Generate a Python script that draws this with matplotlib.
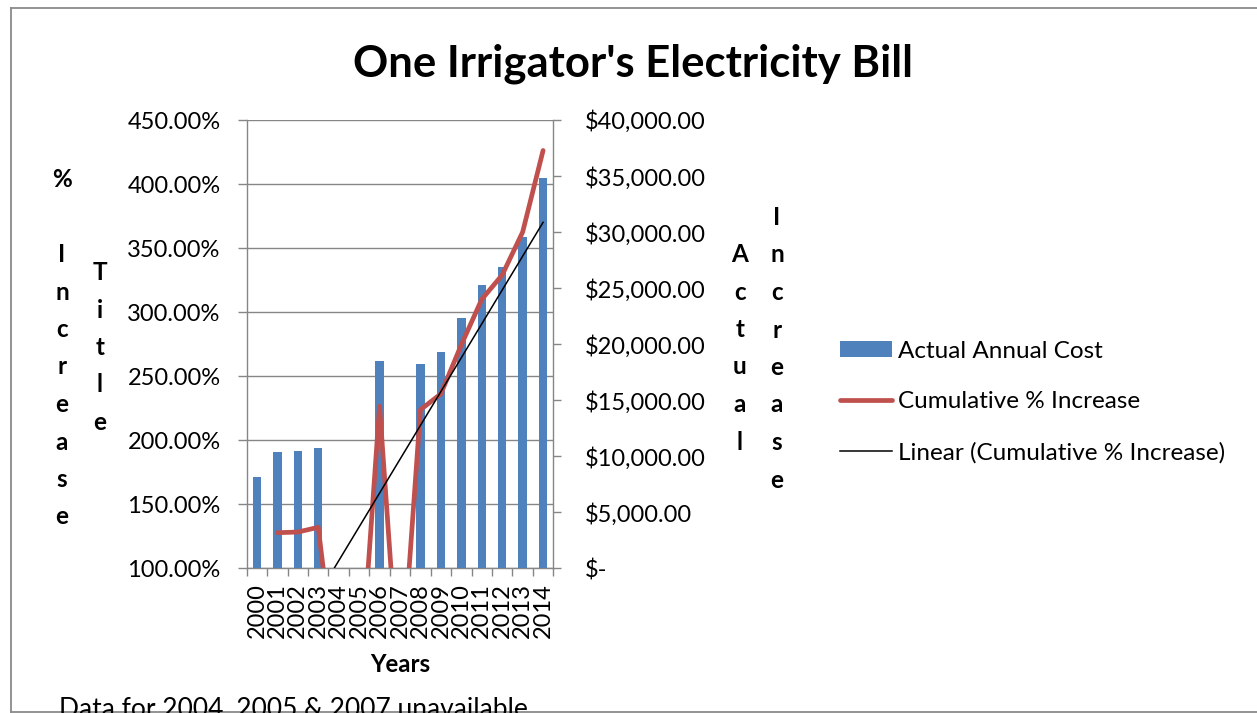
import numpy as np
import matplotlib
matplotlib.use("Agg")
import matplotlib.pyplot as plt
from matplotlib.lines import Line2D
from matplotlib.patches import Patch
from matplotlib.ticker import FuncFormatter

plt.rcParams['font.family'] = ['Lato', 'DejaVu Sans']

# ---------------- data ----------------
years = ['2000', '2001', '2002', '2003', '2004', '2005', '2006', '2007',
         '2008', '2009', '2010', '2011', '2012', '2013', '2014']
actual_cost = [8170, 10400, 10470, 10730, 0, 0, 18500, 0,
               18260, 19270, 22310, 25280, 26910, 29590, 34800]
cum_pct = [np.nan, 1.278, 1.283, 1.320, 0.0, 0.0, 2.265, 0.0,
           2.238, 2.362, 2.745, 3.100, 3.290, 3.625, 4.262]
pct_ticks = [1.0, 1.5, 2.0, 2.5, 3.0, 3.5, 4.0, 4.5]
cost_ticks = [0, 5000, 10000, 15000, 20000, 25000, 30000, 35000, 40000]

title = "One Irrigator's Electricity Bill"
x_title = "Years"
footnote = "Data for 2004, 2005 & 2007 unavailable"
series_names = ["Actual Annual Cost", "Cumulative % Increase",
                "Linear (Cumulative % Increase)"]

# ---------------- style ----------------
W, H = 1257, 713
BLUE = '#4F81BD'
RED = '#C0504D'
GRAY = '#868686'
TICK_FS = 17
BOLD_FS = 17.5
LEG_FS = 17.5

fig = plt.figure(figsize=(W / 100, H / 100), dpi=100)
fig.patch.set_facecolor('white')


def fx(px):
    return px / W


def fy(py):
    return (H - py) / H


L, R, T, B = 246.7, 553.3, 120.0, 568.3
rect = [fx(L), fy(B), fx(R) - fx(L), fy(T) - fy(B)]

ax_pct = fig.add_axes(rect)
ax_cost = ax_pct.twinx()
ax_line = ax_pct.twinx()
ax_pct.set_zorder(1)
ax_cost.set_zorder(2)
ax_line.set_zorder(3)
ax_cost.patch.set_visible(False)
ax_line.patch.set_visible(False)

idx = np.arange(len(years))

# bars (right $ axis)
ax_cost.bar(idx, actual_cost, width=0.41, color=BLUE, linewidth=0)
ax_cost.set_ylim(0, 40000)
ax_cost.set_yticks(cost_ticks)


def cost_fmt(v, pos):
    if abs(v) < 1e-9:
        return '$-'
    return '${:,.2f}'.format(v)


ax_cost.yaxis.set_major_formatter(FuncFormatter(cost_fmt))
ax_cost.tick_params(axis='y', direction='out', length=6, width=1, color=GRAY,
                    pad=16.5, labelsize=TICK_FS)
for s in ['top', 'left', 'bottom']:
    ax_cost.spines[s].set_visible(False)
ax_cost.spines['right'].set_color(GRAY)
ax_cost.spines['right'].set_linewidth(1)

# percent axis (left) with gridlines
ax_pct.set_xlim(-0.5, len(years) - 0.5)
ax_pct.set_ylim(1.0, 4.5)
ax_pct.set_yticks(pct_ticks)
ax_pct.yaxis.set_major_formatter(FuncFormatter(lambda v, p: '{:.2f}%'.format(v * 100)))
ax_pct.tick_params(axis='y', direction='out', length=6.2, width=1, color=GRAY,
                   pad=12.5, labelsize=TICK_FS)
ax_pct.yaxis.grid(True, color=GRAY, linewidth=1)
ax_pct.set_axisbelow(True)
ax_pct.set_xticks(idx)
ax_pct.set_xticklabels(years, rotation=90)
ax_pct.set_xticks(np.arange(-0.5, len(years), 1.0), minor=True)
ax_pct.tick_params(axis='x', which='major', length=0, pad=10.5, labelsize=TICK_FS)
ax_pct.tick_params(axis='x', which='minor', direction='out', length=6, width=1,
                   color=GRAY)
for s in ['top', 'right']:
    ax_pct.spines[s].set_visible(False)
for s in ['left', 'bottom']:
    ax_pct.spines[s].set_color(GRAY)
    ax_pct.spines[s].set_linewidth(1)

# lines (left % axis, on top)
ax_line.set_xlim(-0.5, len(years) - 0.5)
ax_line.set_ylim(1.0, 4.5)
ax_line.axis('off')
pct_arr = np.array(cum_pct, dtype=float)
ax_line.plot(idx, pct_arr, color=RED, linewidth=3.4,
             solid_joinstyle='round', solid_capstyle='round', zorder=2)
mask = ~np.isnan(pct_arr)
coef = np.polyfit(idx[mask], pct_arr[mask], 1)
xt = np.array([idx[mask][0], idx[mask][-1]], dtype=float)
ax_line.plot(xt, np.polyval(coef, xt), color='black', linewidth=1.1, zorder=3)

# ---------------- texts ----------------
renderer = fig.canvas.get_renderer()


def fit_width(t, target_px):
    w = t.get_window_extent(renderer).width
    t.set_fontsize(t.get_fontsize() * target_px / w)


t_title = fig.text(fx(633), fy(77), title, ha='center', va='baseline',
                   fontsize=30, fontweight='bold')
fit_width(t_title, 560)

t_years = fig.text(fx(400), fy(665), x_title, ha='center', va='center',
                   fontsize=BOLD_FS, fontweight='bold')
fit_width(t_years, 60)

t_foot = fig.text(fx(59), fy(716), footnote, ha='left', va='baseline',
                  fontsize=17)
fit_width(t_foot, 468)


def stacked(chars, x, b0, step=37.5):
    for k, ch in enumerate(chars):
        if ch == ' ':
            continue
        fig.text(fx(x), fy(b0 + k * step), ch, ha='center', va='baseline',
                 fontsize=BOLD_FS, fontweight='bold')


stacked('% Increase', 62, 187)
stacked('Title', 100, 280)
stacked('Actual', 740, 262)
stacked('Increase', 777, 225)

# legend
handles = [Patch(facecolor=BLUE, edgecolor='none'),
           Line2D([], [], color=RED, linewidth=3.4, solid_capstyle='round'),
           Line2D([], [], color='black', linewidth=1.1)]
fig.legend(handles, series_names, loc='center left',
           bbox_to_anchor=(fx(840), fy(402)), frameon=False,
           fontsize=LEG_FS, handlelength=2.14, handleheight=0.58,
           handletextpad=0.23, labelspacing=1.22, borderpad=0,
           borderaxespad=0)

# chart-area border
bc = '#8a8a8a'
fig.add_artist(Line2D([fx(11), fx(11)], [fy(8), fy(712)], color=bc, lw=1.3))
fig.add_artist(Line2D([fx(11), 1.01], [fy(8), fy(8)], color=bc, lw=1.3))
fig.add_artist(Line2D([fx(11), 1.01], [fy(712), fy(712)], color=bc, lw=1.3))

fig.savefig('out.png', dpi=100, facecolor='white')
